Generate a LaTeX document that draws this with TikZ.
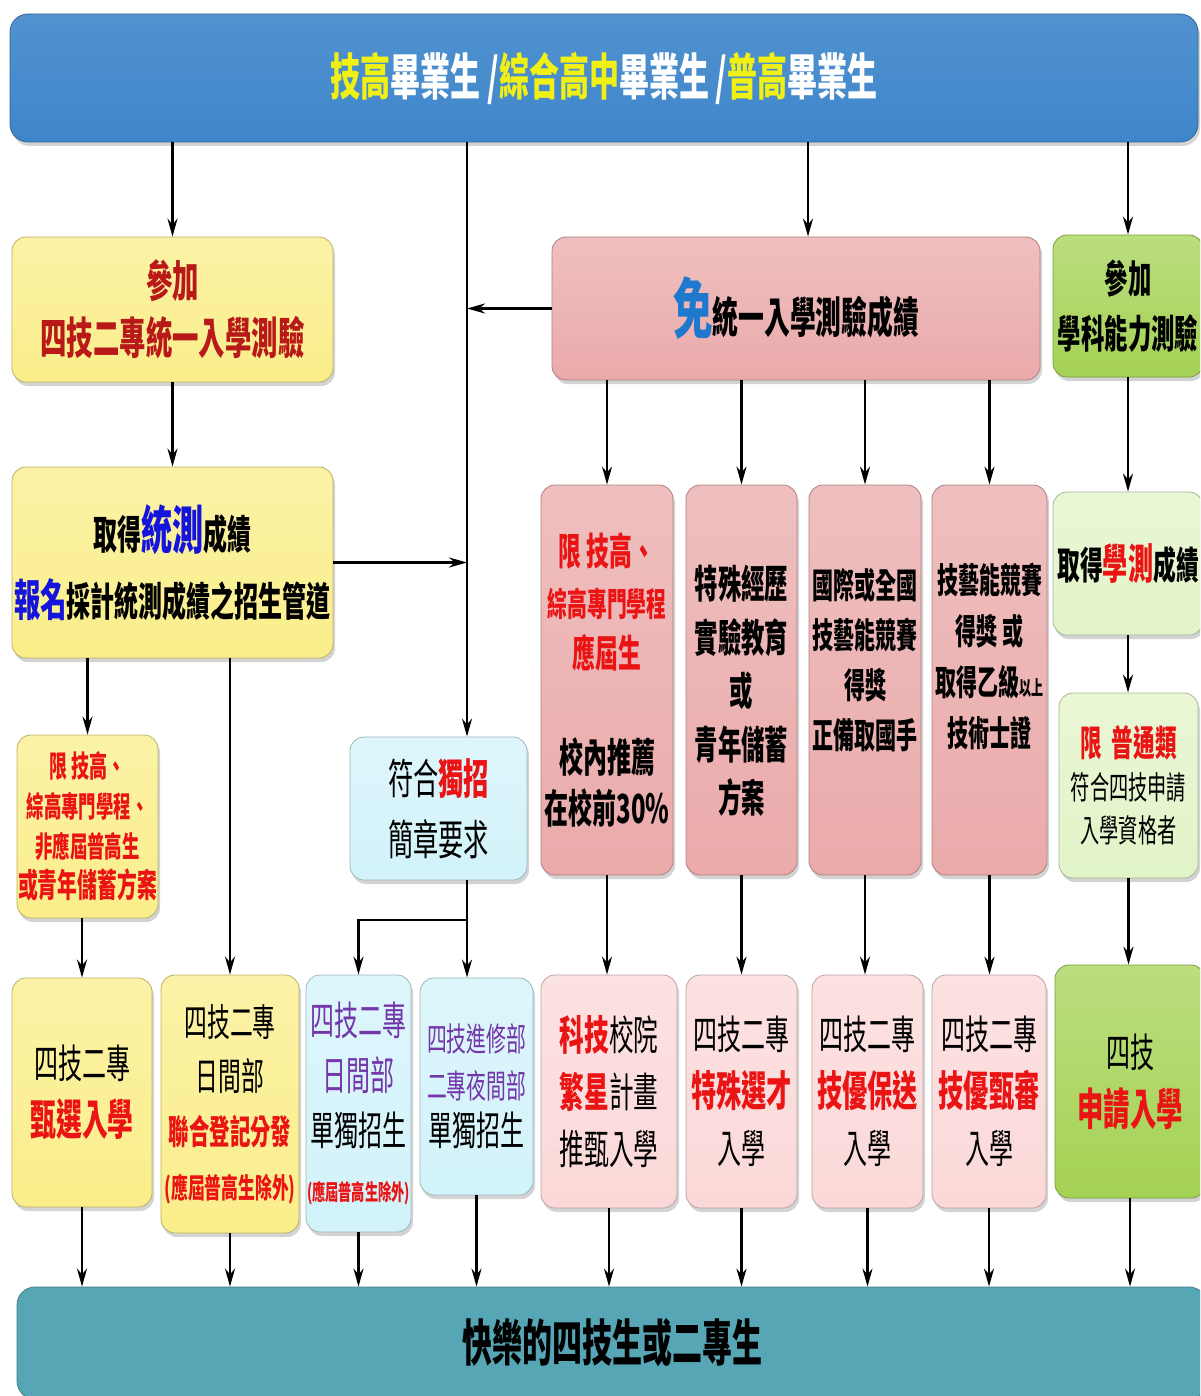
\documentclass[tikz,border=0pt]{standalone}
\usepackage{fontspec}
\setmainfont{Noto Sans CJK TC}[FakeStretch=0.6]
\usetikzlibrary{arrows.meta,shadows}

\definecolor{barblue}{RGB}{62,134,202}
\definecolor{barteal}{RGB}{86,166,182}
\definecolor{ylw}{RGB}{250,238,138}
\definecolor{pnk}{RGB}{234,170,170}
\definecolor{ltpnk}{RGB}{251,216,216}
\definecolor{cyn}{RGB}{210,243,250}
\definecolor{grn}{RGB}{164,210,84}
\definecolor{ltgrn}{RGB}{226,244,200}
\definecolor{txtyel}{RGB}{240,240,20}
\definecolor{txtred}{RGB}{235,20,20}
\definecolor{txtdred}{RGB}{185,25,25}
\definecolor{txtblue}{RGB}{20,20,220}
\definecolor{txtsky}{RGB}{30,120,205}
\definecolor{txtpur}{RGB}{115,55,170}

\newcommand\tsz[2]{\fontsize{#1}{#2}\selectfont}

\tikzset{
  card/.style={rounded corners=14pt, draw=#1!75!black, line width=0.8pt,
    top color=#1!75!white, bottom color=#1, align=center, inner sep=0pt,
    drop shadow={opacity=0.35, shadow xshift=2pt, shadow yshift=-4pt}},
  card/.default=pnk,
  flow/.style={line width=2.6pt, -{Stealth[length=18pt,width=10pt]}},
}

\begin{document}
\begin{tikzpicture}[x=1pt,y=-1pt]
  \useasboundingbox (0,0) rectangle (1200,1396);
  \clip (0,0) rectangle (1200,1396);

  % Bars at top and bottom
  \node[card=barblue, top color=barblue!90!white, rounded corners=18pt, minimum width=1188pt, minimum height=128pt, font={\tsz{50}{50}\bfseries}] (grads) at (604,78)
    {\color{txtyel}技高\color{white}畢業生 /\color{txtyel}綜合高中\color{white}畢業生 /\color{txtyel}普高\color{white}畢業生};
  \node[card=barteal, top color=barteal, rounded corners=18pt, minimum width=1190pt, minimum height=112pt, font={\tsz{50}{50}\bfseries}] (happy) at (612,1343)
    {快樂的四技生或二專生};

  % Left column: unified exam
  \node[card=ylw, minimum width=321pt, minimum height=145pt, font={\tsz{44}{57}\bfseries}, text=txtdred] (tvex) at (172.5,309.5)
    {參加\\四技二專統一入學測驗};
  \node[card=ylw, minimum width=321pt, minimum height=191pt, font={\tsz{40}{67}\bfseries}] (tvsc) at (172.5,562.5)
    {取得{\tsz{52}{67}\color{txtblue}統測}成績\\{\tsz{44}{67}\color{txtblue}報名}採計統測成績之招生管道};
  \node[card=ylw, minimum width=141pt, minimum height=183pt, font={\tsz{30}{40}\bfseries}, text=txtred] (onlyvoc) at (87.5,826.5)
    {限\ 技高、\\\tsz{29}{40}綜高專門學程、\\\tsz{29}{40}非應屆普高生\\\tsz{33}{40}或青年儲蓄方案};
  \node[card=cyn, minimum width=177pt, minimum height=143pt, font={\tsz{42}{61}}] (indep) at (438.5,808.5)
    {符合{\bfseries\color{txtred}獨招}\\簡章要求};

  % Right part: no exam score, GSAT
  \node[card=pnk, minimum width=488pt, minimum height=143pt, font={\tsz{43}{43}\bfseries}] (noexam) at (796,308.5)
    {{\tsz{66}{43}\color{txtsky}免}統一入學測驗成績};
  \node[card=grn, minimum width=150pt, minimum height=142pt, font={\tsz{39}{55}\bfseries}] (gsat) at (1128,306)
    {參加\\學科能力測驗};

  \node[card=pnk, minimum width=132pt, minimum height=390pt, font={\tsz{38}{51}\bfseries}, text=txtred] (recom) at (607,680)
    {限 技高、\\\tsz{33}{51}綜高專門學程\\應屆生\\[54pt]\color{black}\tsz{40}{51}校內推薦\\\color{black}\tsz{40}{51}在校前30\%};
  \node[card=pnk, minimum width=111pt, minimum height=390pt, font={\tsz{39}{53.5}\bfseries}] (special) at (741.5,680)
    {\rule{0pt}{55pt}特殊經歷\\實驗教育\\或\\青年儲蓄\\方案};
  \node[card=pnk, minimum width=112pt, minimum height=390pt, font={\tsz{35}{50}\bfseries}] (intl) at (865,680)
    {國際或全國\\技藝能競賽\\得獎\\正備取國手\\[-6pt]\mbox{}};
  \node[card=pnk, minimum width=115pt, minimum height=390pt, font={\tsz{35}{51}\bfseries}] (skill) at (989.5,680)
    {技藝能競賽\\得獎 或\\取得乙級{\tsz{20}{51}以上}\\技術士證\\[0pt]\mbox{}};
  \node[card=ltgrn, minimum width=150pt, minimum height=143pt, font={\tsz{38}{42}\bfseries}] (gscore) at (1128,563.5)
    {取得{\tsz{42}{42}\color{txtred}學測}成績};
  \node[card=ltgrn, minimum width=139pt, minimum height=185pt, font={\tsz{32}{43}}] (greq) at (1128.5,785.5)
    {{\tsz{36}{43}\bfseries\color{txtred}限\ \ 普通類}\\符合四技申請\\入學資格者};

  % Bottom row: admission channels
  \node[card=ylw, minimum width=140pt, minimum height=229pt, font={\tsz{40}{57}}] (sel) at (82,1092.5)
    {四技二專\\{\bfseries\tsz{43}{57}\color{txtred}甄選入學}};
  \node[card=ylw, minimum width=138pt, minimum height=258pt, font={\tsz{38}{54}}] (dist) at (230,1104)
    {四技二專\\日間部\\{\bfseries\color{txtred}\tsz{34}{54}聯合登記分發}\\{\bfseries\color{txtred}\tsz{28}{54}(應屆普高生除外)}};
  \node[card=cyn, minimum width=105pt, minimum height=257pt, font={\tsz{40}{55}}] (dayind) at (358.5,1103.5)
    {\color{txtpur}四技二專\\\color{txtpur}日間部\\單獨招生\\{\bfseries\color{txtred}\tsz{22}{55}(應屆普高生除外)}};
  \node[card=cyn, minimum width=113pt, minimum height=217pt, font={\tsz{33}{47}}] (nightind) at (476.5,1086.5)
    {\color{txtpur}四技進修部\\\color{txtpur}二專夜間部\\\tsz{40}{47}單獨招生};
  \node[card=ltpnk, minimum width=136pt, minimum height=233pt, font={\tsz{41}{57}}] (star) at (609,1091.5)
    {{\bfseries\color{txtred}科技}校院\\{\bfseries\color{txtred}繁星}計畫\\推甄入學};
  \node[card=ltpnk, minimum width=111pt, minimum height=233pt, font={\tsz{40}{57}}] (talent) at (741.5,1091.5)
    {四技二專\\{\bfseries\color{txtred}\tsz{42}{57}特殊選才}\\入學};
  \node[card=ltpnk, minimum width=111pt, minimum height=233pt, font={\tsz{40}{57}}] (guar) at (867.5,1091.5)
    {四技二專\\{\bfseries\color{txtred}\tsz{42}{57}技優保送}\\入學};
  \node[card=ltpnk, minimum width=114pt, minimum height=233pt, font={\tsz{40}{57}}] (skrev) at (989,1091.5)
    {四技二專\\{\bfseries\color{txtred}\tsz{42}{57}技優甄審}\\入學};
  \node[card=grn, minimum width=150pt, minimum height=233pt, font={\tsz{40}{58}}] (apply) at (1130,1081.5)
    {四技\\{\bfseries\color{txtred}\tsz{44}{58}申請入學}};

  % From the graduates bar
  \coordinate (trunk) at (467,565);
  \coordinate (split) at (467,920);
  \draw[flow] (grads.south -| tvex) -- (tvex.north);
  \draw[flow] (grads.south -| trunk) -- (trunk |- indep.north);  % long line to indep
  \draw[flow] ([xshift=12pt]noexam.north |- grads.south) -- ([xshift=12pt]noexam.north);
  \draw[flow] (grads.south -| gsat) -- (gsat.north);

  % Left column
  \draw[flow] (tvex.south) -- (tvsc.north);
  \draw[flow] (tvsc.east) -- (tvsc.east -| trunk);
  \draw[flow] (noexam.west) -- (noexam.west -| trunk);
  \draw[flow] (tvsc.south -| onlyvoc) -- (onlyvoc.north);
  \draw[flow] (tvsc.south -| dist) -- (dist.north);
  \draw[flow] (onlyvoc.south -| sel) -- (sel.north);
  \draw[line width=2.6pt] (indep.south -| split) -- (split);
  \draw[flow] (split) -- (split |- nightind.north);
  \draw[flow] (split) -| (dayind.north);

  % Right part
  \foreach \b in {recom,special,intl,skill}
    \draw[flow] (noexam.south -| \b) -- (\b.north);
  \draw[flow] (gsat.south) -- (gscore.north);
  \draw[flow] (gscore.south) -- (gscore.south |- greq.north);
  \foreach \a/\b in {recom/star,special/talent,intl/guar,skill/skrev,greq/apply}
    \draw[flow] (\a.south) -- (\a.south |- \b.north);

  % Into the bottom bar
  \foreach \b in {sel,dist,dayind,nightind,star,talent,guar,skrev,apply}
    \draw[flow] (\b.south) -- (\b.south |- happy.north);
\end{tikzpicture}
\end{document}
